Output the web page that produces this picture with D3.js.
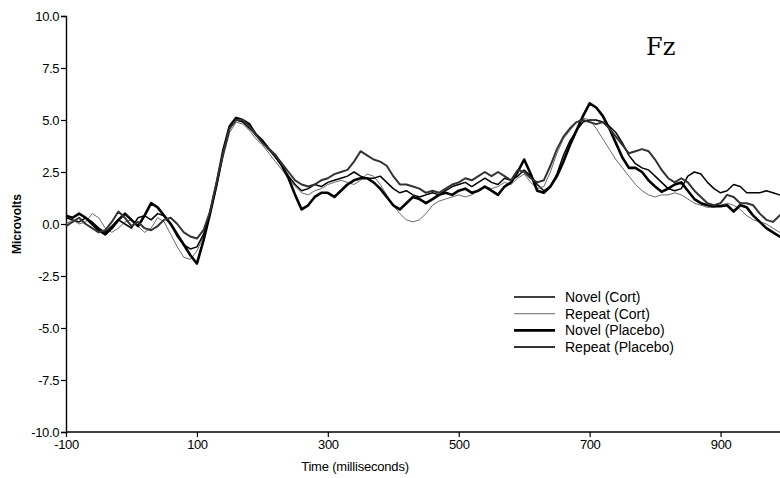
<!DOCTYPE html>
<html>
<head>
<meta charset="utf-8">
<script src="https://cdn.jsdelivr.net/npm/d3@7"></script>
<style>
  body { margin: 0; background: #fff; }
  svg { display: block; }
</style>
</head>
<body>
<svg id="erp"></svg>
<script>
// sampling grid (ms)
var times = [-100,-90,-80,-70,-60,-50,-40,-30,-20,-10,0,10,20,30,40,50,60,70,80,90,
  100,110,120,130,140,150,160,170,180,190,200,210,220,230,240,250,260,270,280,290,
  300,310,320,330,340,350,360,370,380,390,400,410,420,430,440,450,460,470,480,490,
  500,510,520,530,540,550,560,570,580,590,600,610,620,630,640,650,660,670,680,690,
  700,710,720,730,740,750,760,770,780,790,800,810,820,830,840,850,860,870,880,890,
  900,910,920,930,940,950,960,970,980,990,1000];

var novelCort = [0.3,0.2,0.1,0.3,0.1,-0.2,-0.4,-0.1,0.2,0.0,-0.2,0.3,0.4,0.2,0.5,0.4,0.0,-0.6,-1.0,-1.2,
  -1.1,-0.5,0.5,1.9,3.4,4.6,5.0,4.9,4.6,4.3,3.9,3.6,3.2,2.8,2.3,1.9,1.6,1.7,1.9,1.8,
  2.0,2.1,2.2,2.3,2.5,2.3,2.2,2.2,2.3,2.0,1.7,1.5,1.6,1.4,1.3,1.4,1.5,1.4,1.6,1.8,
  1.9,2.0,1.8,2.0,2.2,2.0,1.9,2.2,2.1,2.3,2.6,2.3,1.9,1.6,1.8,2.4,3.3,4.0,4.5,4.9,
  5.0,5.0,4.9,4.7,4.4,3.9,3.3,2.9,2.7,2.6,2.3,2.0,1.7,1.6,1.7,2.3,2.5,2.4,2.0,1.7,
  1.5,1.6,1.9,1.8,1.5,1.5,1.5,1.6,1.5,1.4,1.3];

var repeatCort = [0.0,0.2,0.0,0.1,0.5,0.3,-0.2,-0.4,-0.2,0.1,0.2,-0.1,-0.4,-0.2,0.3,0.1,-0.5,-1.1,-1.6,-1.7,
  -1.3,-0.6,0.4,1.8,3.2,4.4,4.9,4.8,4.5,4.1,3.8,3.4,3.0,2.6,2.2,1.8,1.5,1.4,1.6,1.7,
  1.9,2.0,2.1,2.0,1.9,2.1,2.4,2.3,1.9,1.4,0.9,0.5,0.2,0.1,0.2,0.5,0.9,1.1,1.2,1.3,
  1.4,1.3,1.4,1.6,1.8,1.7,1.8,2.0,1.9,2.2,2.4,2.0,1.7,1.8,2.5,3.4,4.1,4.5,4.9,5.1,
  5.0,4.6,4.1,3.6,3.1,2.7,2.3,1.9,1.6,1.4,1.3,1.4,1.4,1.5,1.4,1.2,1.0,0.9,0.8,0.8,
  0.9,1.0,0.9,0.7,0.4,0.2,0.1,0.0,-0.2,-0.4,-0.5];

var novelPlacebo = [0.4,0.3,0.5,0.3,0.0,-0.3,-0.5,-0.2,0.2,0.5,0.2,-0.1,0.4,1.0,0.8,0.4,0.0,-0.5,-1.0,-1.5,
  -1.9,-0.8,0.5,1.9,3.5,4.7,5.1,5.0,4.8,4.3,4.0,3.6,3.3,2.8,2.2,1.4,0.7,0.9,1.3,1.5,
  1.5,1.3,1.6,1.9,2.1,2.2,2.2,2.0,1.7,1.3,0.9,0.7,1.0,1.3,1.2,1.0,1.2,1.4,1.5,1.4,
  1.6,1.7,1.5,1.6,1.8,1.6,1.4,1.8,2.0,2.5,3.1,2.4,1.6,1.5,1.8,2.3,3.0,3.8,4.5,5.2,
  5.8,5.6,5.2,4.6,3.9,3.2,2.7,2.7,2.5,2.1,1.8,1.55,1.7,1.9,2.0,1.6,1.2,1.0,0.9,0.85,
  0.85,0.9,0.6,0.9,0.8,0.4,0.1,-0.2,-0.4,-0.6,-0.7];

var repeatPlacebo = [-0.1,0.1,0.3,0.0,-0.2,-0.4,-0.3,0.1,0.6,0.3,-0.1,0.1,-0.2,-0.3,-0.1,0.2,0.3,0.0,-0.4,-0.6,
  -0.7,-0.3,0.6,2.0,3.4,4.6,5.0,5.0,4.7,4.3,3.9,3.6,3.3,2.9,2.5,2.1,1.9,1.8,1.9,2.1,
  2.2,2.4,2.5,2.6,3.0,3.5,3.3,3.1,3.0,2.8,2.3,1.9,1.9,1.8,1.7,1.5,1.6,1.5,1.7,1.9,
  2.0,2.2,2.1,2.3,2.5,2.3,2.5,2.3,2.1,2.6,2.5,2.2,2.0,2.1,2.8,3.6,4.2,4.6,4.9,5.0,
  4.9,4.8,4.9,4.6,4.2,3.8,3.4,3.5,3.6,3.5,3.1,2.6,2.2,2.0,2.2,2.0,1.6,1.3,1.0,0.9,
  1.0,1.4,1.3,1.0,1.0,0.9,0.5,0.2,0.1,0.4,0.6];

var seriesNames = ["Novel (Cort)", "Repeat (Cort)", "Novel (Placebo)", "Repeat (Placebo)"];
var xTicks = [-100, 100, 300, 500, 700, 900];
var yTicks = [-10, -7.5, -5, -2.5, 0, 2.5, 5, 7.5, 10];

var styles = [
  {stroke: "#000", width: 1.5},
  {stroke: "#444", width: 0.8},
  {stroke: "#000", width: 2.6},
  {stroke: "#333", width: 2.0}
];

var svg = d3.select("#erp").attr("width", 780).attr("height", 478),
    margin = {top: 16, left: 66, bottom: 46},
    height = 478 - margin.top - margin.bottom;

var x = d3.scaleLinear().domain([-100, 1000]).range([margin.left, margin.left + 720]);
var y = d3.scaleLinear().domain([-10, 10]).range([margin.top + height, margin.top]);

var tickFont = "'Liberation Sans', Arial, sans-serif";
// plain hyphen for negatives, like the original
function hyphen(fmt) {
  return function (d) { return fmt(d).replace("\u2212", "-"); };
}

// axes
var gx = svg.append("g")
    .attr("transform", "translate(0," + y(-10) + ")")
    .call(d3.axisBottom(x).tickValues(xTicks).tickSize(5).tickPadding(3).tickFormat(hyphen(d3.format("d"))));
gx.select(".domain").attr("d", "M" + x(-100) + ",0H780").attr("stroke-width", 1.4);

var gy = svg.append("g")
    .attr("transform", "translate(" + x(-100) + ",0)")
    .call(d3.axisLeft(y).tickValues(yTicks).tickSize(5).tickPadding(2).tickFormat(hyphen(d3.format(".1f"))));
gy.select(".domain").attr("stroke-width", 1.4);

svg.selectAll(".tick text")
    .attr("font-family", tickFont)
    .attr("font-size", 13)
    .attr("letter-spacing", "-0.4")
    .attr("fill", "#000");
svg.selectAll(".tick line").attr("stroke", "#000").attr("stroke-width", 1.2);

svg.append("text")
    .attr("transform", "translate(21," + y(0) + ") rotate(-90)")
    .attr("text-anchor", "middle")
    .attr("font-family", tickFont)
    .attr("font-size", 12)
    .attr("font-weight", "bold")
    .text("Microvolts");

svg.append("text")
    .attr("x", 355)
    .attr("y", 471)
    .attr("text-anchor", "middle")
    .attr("font-family", tickFont)
    .attr("font-size", 13)
    .attr("letter-spacing", "-0.2")
    .text("Time (milliseconds)");

svg.append("text")
    .attr("x", 646)
    .attr("y", 55)
    .attr("font-family", "'DejaVu Serif', 'Liberation Serif', serif")
    .attr("font-size", 24)
    .text("Fz");

// waveforms
var series = [novelCort, repeatCort, novelPlacebo, repeatPlacebo];
var line = d3.line()
    .x(function (d, i) { return x(times[i]); })
    .y(function (d) { return y(d); });

svg.append("g")
    .selectAll("path")
    .data(series)
    .enter().append("path")
    .attr("fill", "none")
    .attr("stroke", function (d, i) { return styles[i].stroke; })
    .attr("stroke-width", function (d, i) { return styles[i].width; })
    .attr("stroke-linejoin", "round")
    .attr("d", line);

// legend
var legend = svg.append("g")
    .attr("font-family", tickFont)
    .attr("font-size", 14)
    .selectAll("g")
    .data(seriesNames)
    .enter().append("g")
    .attr("transform", function (d, i) { return "translate(514," + (297 + i * 16.7) + ")"; });

legend.append("line")
    .attr("x1", 0).attr("x2", 41)
    .attr("stroke", function (d, i) { return styles[i].stroke; })
    .attr("stroke-width", function (d, i) { return styles[i].width; });

legend.append("text")
    .attr("x", 51)
    .attr("dy", "0.35em")
    .text(function (d) { return d; });
</script>
</body>
</html>
